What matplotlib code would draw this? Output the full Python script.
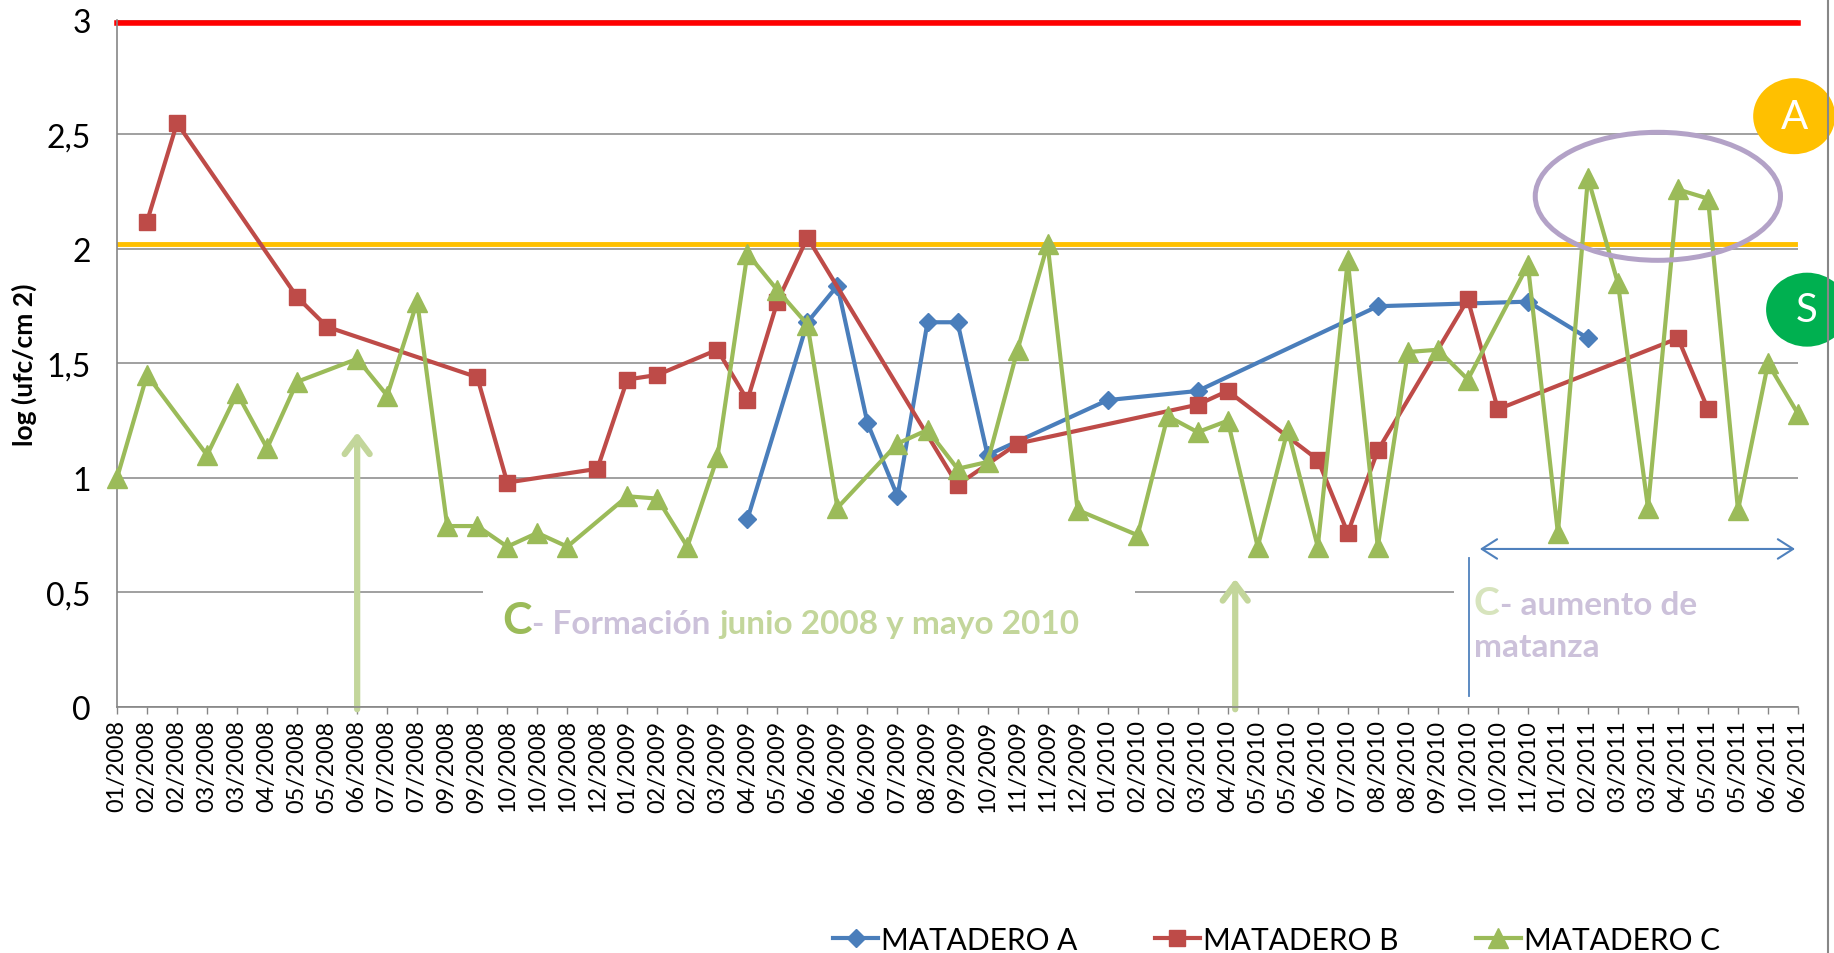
import numpy as np
import matplotlib
matplotlib.use("Agg")
import matplotlib.pyplot as plt
from matplotlib.patches import Ellipse, Rectangle, FancyArrowPatch
from matplotlib.offsetbox import TextArea, HPacker, AnnotationBbox
from matplotlib.lines import Line2D

plt.rcParams['font.family'] = ['Lato', 'DejaVu Sans']

n = np.nan

fechas = ['01/2008', '02/2008', '02/2008', '03/2008', '03/2008', '04/2008', '05/2008', '05/2008',
          '06/2008', '07/2008', '07/2008', '09/2008', '09/2008', '10/2008', '10/2008', '10/2008',
          '12/2008', '01/2009', '02/2009', '02/2009', '03/2009', '04/2009', '05/2009', '06/2009',
          '06/2009', '06/2009', '07/2009', '08/2009', '09/2009', '10/2009', '11/2009', '11/2009',
          '12/2009', '01/2010', '02/2010', '02/2010', '03/2010', '04/2010', '05/2010', '05/2010',
          '06/2010', '07/2010', '08/2010', '08/2010', '09/2010', '10/2010', '10/2010', '11/2010',
          '01/2011', '02/2011', '03/2011', '03/2011', '04/2011', '05/2011', '05/2011', '06/2011',
          '06/2011']

matadero_a = [n, n, n, n, n, n, n, n, n, n,
              n, n, n, n, n, n, n, n, n, n,
              n, 0.82, n, 1.68, 1.84, 1.24, 0.92, 1.68, 1.68, 1.10,
              n, n, n, 1.34, n, n, 1.38, n, n, n,
              n, n, 1.75, n, n, n, n, 1.77, n, 1.61,
              n, n, n, n, n, n, n]

matadero_b = [n, 2.12, 2.55, n, n, n, 1.79, 1.66, n, n,
              n, n, 1.44, 0.98, n, n, 1.04, 1.43, 1.45, n,
              1.56, 1.34, 1.77, 2.05, n, n, n, n, 0.97, n,
              1.15, n, n, n, n, n, 1.32, 1.38, n, n,
              1.08, 0.76, 1.12, n, n, 1.78, 1.30, n, n, n,
              n, n, 1.61, 1.30, n, n, n]

matadero_c = [1.00, 1.45, n, 1.10, 1.37, 1.13, 1.42, n, 1.52, 1.36,
              1.77, 0.79, 0.79, 0.70, 0.76, 0.70, n, 0.92, 0.91, 0.70,
              1.09, 1.98, 1.82, 1.67, 0.87, n, 1.15, 1.21, 1.04, 1.07,
              1.56, 2.02, 0.86, n, 0.75, 1.27, 1.20, 1.25, 0.70, 1.21,
              0.70, 1.95, 0.70, 1.55, 1.56, 1.43, n, 1.93, 0.76, 2.31,
              1.85, 0.87, 2.26, 2.22, 0.86, 1.50, 1.28]

limite_m = 2.985   # linea roja
limite_s = 2.02    # linea naranja

fig = plt.figure(figsize=(18.34, 9.54), dpi=100)
ax = fig.add_axes([0.0638, 0.2579, 0.9166, 0.7201])

x = np.arange(len(fechas))
series = [
    ('MATADERO A', matadero_a, '#4A7EBB', 'D', 9),
    ('MATADERO B', matadero_b, '#BE4B48', 's', 12),
    ('MATADERO C', matadero_c, '#9BBB59', '^', 14),
]
handles = []
for i, (name, vals, col, mk, ms) in enumerate(series):
    v = np.array(vals, dtype=float)
    ok = ~np.isnan(v)
    line, = ax.plot(x[ok], v[ok], color=col, lw=3, marker=mk, markersize=ms,
                    markeredgecolor=col, label=name, zorder=3 + i, clip_on=False)
    handles.append(line)

# limit lines
ax.plot([0, 56], [limite_m, limite_m], color='#FF0000', lw=4, zorder=2.5, clip_on=False)
ax.plot([0, 55.9], [limite_s, limite_s], color='#FFC000', lw=3.5, zorder=2.5)

ax.set_xlim(0, 56)
ax.set_ylim(0, 3)
ax.set_xticks(x)
ax.set_xticklabels(fechas, rotation=90, fontsize=16.8)
ax.set_yticks([0, 0.5, 1, 1.5, 2, 2.5, 3])
ax.set_yticklabels(['0', '0,5', '1', '1,5', '2', '2,5', '3'], fontsize=23)
ax.tick_params(axis='x', length=5, width=1, color='#868686', pad=4)
ax.tick_params(axis='y', length=0, pad=19)
ax.set_ylabel('log (ufc/cm 2)', fontsize=19, fontweight='bold')
ax.yaxis.set_label_coords(-0.0476, 0.5)

ax.grid(axis='y', color='#868686', lw=1.1)
ax.set_axisbelow(True)
for s in ['top', 'right']:
    ax.spines[s].set_visible(False)
for s in ['left', 'bottom']:
    ax.spines[s].set_color('#868686')
    ax.spines[s].set_linewidth(1.2)

# white text boxes hiding the 0,5 grid line
ax.add_patch(Rectangle((12.2, 0.3), 21.7, 0.32, facecolor='white', edgecolor='none', zorder=0.8))
ax.add_patch(Rectangle((44.55, 0.05), 11.45, 0.57, facecolor='white', edgecolor='none', zorder=0.8))

# arrows
for xa, ytop in [(8, 1.20), (37.25, 0.56)]:
    ax.add_patch(FancyArrowPatch((xa, -0.01), (xa, ytop), arrowstyle='->,head_length=0.6,head_width=0.45',
                                 mutation_scale=20, color='#C3D69B', lw=4.5, shrinkA=0, shrinkB=0,
                                 zorder=2, clip_on=False))
ax.add_patch(FancyArrowPatch((45.4, 0.69), (55.9, 0.69), arrowstyle='<->,head_length=0.55,head_width=0.35',
                             mutation_scale=20, color='#4F81BD', lw=1.5, shrinkA=0, shrinkB=0, zorder=2))
ax.plot([45.05, 45.05], [0.05, 0.65], color='#4F81BD', lw=1.3, zorder=2)


def texto(parts, xy):
    areas = [TextArea(t, textprops=dict(color=c, fontsize=s, fontweight='bold')) for t, c, s in parts]
    box = HPacker(children=areas, align='baseline', pad=0, sep=0)
    ab = AnnotationBbox(box, xy, xycoords='data', box_alignment=(0, 0.5), frameon=False, pad=0, zorder=4)
    ax.add_artist(ab)


texto([('C', '#9BBB59', 32), ('- Formación ', '#CCC1DA', 24), ('junio 2008 y mayo 2010', '#C3D69B', 24)],
      (12.85, 0.38))
texto([('C', '#D7E4BD', 28), ('- aumento de', '#CCC1DA', 24)], (45.2, 0.455))
texto([('matanza', '#CCC1DA', 24)], (45.2, 0.265))

# ellipse and circles
ax.add_patch(Ellipse((51.33, 2.23), 8.17, 0.559, facecolor='none', edgecolor='#B3A2C7', lw=3.6, zorder=7))
ax.add_patch(Ellipse((55.87, 2.58), 2.73, 0.332, facecolor='#FFC000', edgecolor='none', zorder=7, clip_on=False))
ax.text(55.87, 2.58, 'A', color='white', fontsize=29, ha='center', va='center', zorder=8)
ax.add_patch(Ellipse((56.3, 1.735), 2.73, 0.323, facecolor='#00B050', edgecolor='none', zorder=7, clip_on=False))
ax.text(56.3, 1.735, 'S', color='white', fontsize=29, ha='center', va='center', zorder=8)

# chart border on the right
fig.add_artist(Line2D([0.9967, 0.9967], [0, 1], color='#878787', lw=1.5, zorder=1))

fig.legend(handles=handles, loc='center', bbox_to_anchor=(0.696, 0.014), ncol=3, frameon=False,
           fontsize=21.5, handlelength=1.5, handletextpad=0.1, columnspacing=2.6)

fig.savefig('out.png', dpi=100)
